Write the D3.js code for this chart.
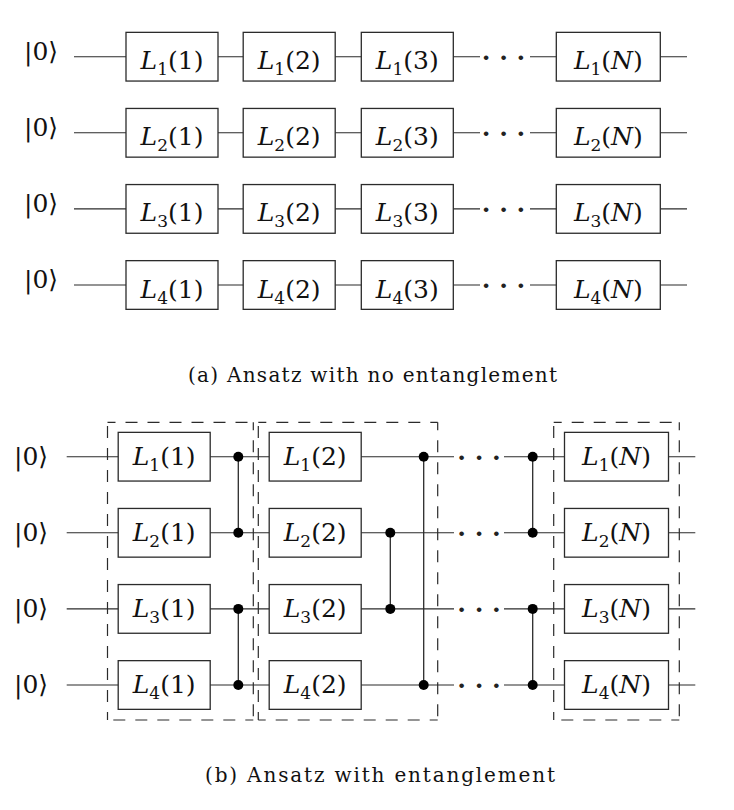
<!DOCTYPE html>
<html>
<head>
<meta charset="utf-8">
<script src="https://cdn.jsdelivr.net/npm/d3@7"></script>
<style>
  html, body { margin: 0; padding: 0; background: #fff; }
</style>
</head>
<body>
<div id="chart"></div>
<script>
'use strict'

// qubit wires, layer labels and entangling gates
const qubits = [1, 2, 3, 4]
const layersA = ["1", "2", "3", "N"]
const layersB = ["1", "2", "N"]
const czGates = [
    { col: "a", from: 1, to: 2 },
    { col: "a", from: 3, to: 4 },
    { col: "b", from: 2, to: 3 },
    { col: "c", from: 1, to: 4 },
    { col: "d", from: 1, to: 2 },
    { col: "d", from: 3, to: 4 }
]
const blocks = ["1", "2", "N"]
const captions = ["(a) Ansatz with no entanglement", "(b) Ansatz with entanglement"]
const ketLabel = "|0\u27E9"
const dotsLabel = "\u00B7 \u00B7 \u00B7"

////////////////////////////////////
//////////// svg setup /////////////
////////////////////////////////////

const svgWidth = 734
const svgHeight = 810
const ink = "#2b2b2b"
const mathFont = "'DejaVu Serif', serif"

const svg = d3.select("#chart")
    .append("svg")
    .attr("width", svgWidth)
    .attr("height", svgHeight)
    .attr("viewBox", `0 0 ${svgWidth} ${svgHeight}`)

////////////////////////////////////
//////////// Scales ////////////////
////////////////////////////////////

const yA = d3.scalePoint().domain(qubits).range([56.7, 285])
const yB = d3.scalePoint().domain(qubits).range([456.7, 685])

const xA = d3.scaleOrdinal().domain(layersA).range([172, 289.2, 407.3, 608.3])
const wA = d3.scaleOrdinal().domain(layersA).range([92, 92, 92, 104])
const xB = d3.scaleOrdinal().domain(layersB).range([164.2, 315.2, 616.5])
const wB = d3.scaleOrdinal().domain(layersB).range([92, 92, 104])

const czX = d3.scaleOrdinal().domain(["a", "b", "c", "d"]).range([238.3, 390.3, 423.7, 532.7])
const blockX = d3.scaleOrdinal().domain(blocks).range([[107.5, 253.3], [258.3, 437.7], [553.7, 679.3]])

const boxH = 48.7

// wire segments either side of the dots
const wireA = { start: 74, gapStart: 480, gapEnd: 530, end: 687, dots: 503.5 }
const wireB = { start: 66.7, gapStart: 454, gapEnd: 504, end: 695.3, dots: 479 }

////////////////////////////////////
//////////// helpers ///////////////
////////////////////////////////////

function drawWires(g, y, w) {
    g.selectAll(".wire-l")
        .data(qubits)
        .join("line")
        .attr("class", "wire-l")
        .attr("x1", w.start).attr("x2", w.gapStart)
        .attr("y1", d => y(d)).attr("y2", d => y(d))
        .attr("stroke", ink).attr("stroke-width", 1.1)

    g.selectAll(".wire-r")
        .data(qubits)
        .join("line")
        .attr("class", "wire-r")
        .attr("x1", w.gapEnd).attr("x2", w.end)
        .attr("y1", d => y(d)).attr("y2", d => y(d))
        .attr("stroke", ink).attr("stroke-width", 1.1)

    g.selectAll(".dots")
        .data(qubits)
        .join("text")
        .attr("class", "dots")
        .attr("x", w.dots)
        .attr("y", d => y(d) + 9)
        .attr("text-anchor", "middle")
        .style("font-family", mathFont)
        .style("font-size", "25px")
        .style("font-weight", "bold")
        .attr("fill", "#222")
        .text(dotsLabel)
}

function drawKets(g, y, x, dy) {
    g.selectAll(".ket")
        .data(qubits)
        .join("text")
        .attr("class", "ket")
        .attr("x", x)
        .attr("y", d => y(d) + dy)
        .attr("text-anchor", "middle")
        .style("font-family", mathFont)
        .style("font-size", "25px")
        .attr("fill", "#111")
        .text(ketLabel)
}

function drawBoxes(g, y, x, w, layers, dy) {
    const cells = qubits.flatMap(q => layers.map(l => ({ q, l })))

    g.selectAll(".box")
        .data(cells)
        .join("rect")
        .attr("class", "box")
        .attr("x", d => x(d.l) - w(d.l) / 2)
        .attr("y", d => y(d.q) - boxH / 2)
        .attr("width", d => w(d.l))
        .attr("height", boxH)
        .attr("fill", "#fff")
        .attr("stroke", ink)
        .attr("stroke-width", 1.3)

    const labels = g.selectAll(".box-label")
        .data(cells)
        .join("text")
        .attr("class", "box-label")
        .attr("x", d => x(d.l))
        .attr("y", d => y(d.q) + dy)
        .attr("text-anchor", "middle")
        .style("font-family", mathFont)
        .style("font-size", "25px")
        .attr("fill", "#111")

    labels.append("tspan").style("font-style", "italic").text("L")
    labels.append("tspan")
        .attr("dy", 6)
        .style("font-size", "17px")
        .text(d => d.q)
    labels.append("tspan").attr("dy", -6).text("(")
    labels.append("tspan")
        .style("font-style", d => d.l === "N" ? "italic" : "normal")
        .text(d => d.l)
    labels.append("tspan").text(")")
}

////////////////////////////////////
//////////// (a) ///////////////////
////////////////////////////////////

const gA = svg.append("g")
drawWires(gA, yA, wireA)
drawKets(gA, yA, 41, 3)
drawBoxes(gA, yA, xA, wA, layersA, 12.5)

////////////////////////////////////
//////////// (b) ///////////////////
////////////////////////////////////

const gB = svg.append("g")
const blockTop = 422.3
const blockBottom = 720

drawWires(gB, yB, wireB)
drawKets(gB, yB, 31, 8)

// dashed layer groups, one path per side so each corner starts with a dash
const sides = blocks.flatMap(b => {
    const [x0, x1] = blockX(b)
    return [
        [[x0, blockTop], [x1, blockTop]],
        [[x1, blockTop], [x1, blockBottom]],
        [[x1, blockBottom], [x0, blockBottom]],
        [[x0, blockBottom], [x0, blockTop]]
    ]
})

gB.selectAll(".block")
    .data(sides)
    .join("path")
    .attr("class", "block")
    .attr("d", d => d3.line()(d))
    .attr("fill", "none")
    .attr("stroke", ink)
    .attr("stroke-width", 1.2)
    .attr("stroke-dasharray", "12 10")
    .attr("stroke-dashoffset", 4)

drawBoxes(gB, yB, xB, wB, layersB, 8)

// controlled-Z gates
gB.selectAll(".cz-line")
    .data(czGates)
    .join("line")
    .attr("class", "cz-line")
    .attr("x1", d => czX(d.col)).attr("x2", d => czX(d.col))
    .attr("y1", d => yB(d.from)).attr("y2", d => yB(d.to))
    .attr("stroke", ink).attr("stroke-width", 1.3)

gB.selectAll(".cz-dot")
    .data(czGates.flatMap(d => [{ col: d.col, q: d.from }, { col: d.col, q: d.to }]))
    .join("circle")
    .attr("class", "cz-dot")
    .attr("cx", d => czX(d.col))
    .attr("cy", d => yB(d.q))
    .attr("r", 5)
    .attr("fill", "#000")

////////////////////////////////////
//////////// captions //////////////
////////////////////////////////////

svg.selectAll(".caption")
    .data(captions)
    .join("text")
    .attr("class", "caption")
    .attr("x", (d, i) => i === 0 ? 372.5 : 380)
    .attr("y", (d, i) => i === 0 ? 382 : 782)
    .attr("text-anchor", "middle")
    .style("font-family", mathFont)
    .style("font-size", "20px")
    .attr("textLength", (d, i) => i === 0 ? 369 : 350)
    .attr("lengthAdjust", "spacing")
    .attr("fill", "#111")
    .text(d => d)
</script>
</body>
</html>
